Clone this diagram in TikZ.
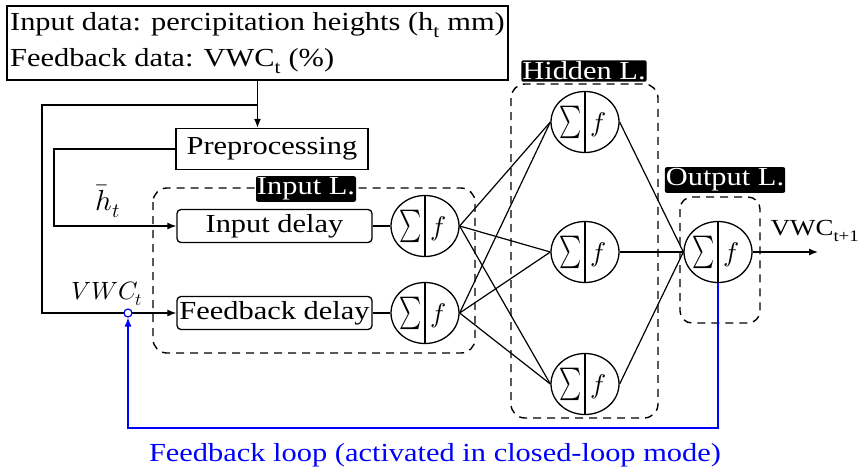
\documentclass[tikz,border=0pt]{standalone}
\usepackage{amsmath}
\usepackage{graphicx}
\usepackage{fontspec}
\usepackage{unicode-math}
\setmainfont{Liberation Serif}[FakeStretch=1.17]
\setmathfont{Latin Modern Math}
\usepackage{tikz}
\usetikzlibrary{arrows.meta,shapes.geometric}

\tikzset{
  box/.style={draw,line width=1.5pt,inner sep=3pt},
  delaybox/.style={draw,rounded corners=4pt,line width=1.3pt,minimum width=195pt,minimum height=33pt,inner sep=0pt},
  neuron/.style={ellipse,draw,fill=white,line width=1.3pt,minimum width=68pt,minimum height=61pt,inner sep=0pt,font=\fontsize{27}{30}\selectfont},
  layerbox/.style={line width=1.4pt,dash pattern=on 8pt off 6pt,rounded corners=14pt},
  tag/.style={fill=black,text=white,inner xsep=1pt,inner ysep=1.5pt,rounded corners=2pt},
  wire/.style={line width=1.2pt},
  mathlabel/.style={font=\fontsize{29}{32}\selectfont},
}
\newcommand{\sumf}{\makebox[0pt][r]{\raisebox{1pt}{\scalebox{0.78}[1.2]{$\sum$}}\hspace{3pt}}\makebox[0pt][l]{\hspace{5pt}$f$}}

\begin{document}
\begin{tikzpicture}[x=1pt,y=-1pt,>={Latex[length=9pt,width=7pt]},font=\fontsize{26}{30}\selectfont]
  \useasboundingbox (0,0) rectangle (863,475);

  % layers (dashed frames)
  \draw[layerbox] (153,188) rectangle (475,353);
  \draw[layerbox] (511,84) rectangle (658,418);
  \draw[layerbox,rounded corners=12pt] (680,197) rectangle (760,323);
  \node[tag] (intag) at (306,189) {Input L.};
  \node[tag] (hidtag) at (584,71) {Hidden L.};
  \node[tag] (outtag) at (725,180) {Output L.};

  % data and preprocessing
  \node[box,align=left,minimum width=495pt,minimum height=74pt,font=\fontsize{26}{36}\selectfont] (data) at (257.5,43)
    {Input data: percipitation heights (h\textsubscript{t} mm)\\Feedback data: VWC\textsubscript{t} (\%)};
  \node[box,minimum width=192pt,minimum height=41pt] (prep) at (272,149) {Preprocessing};
  \node[delaybox] (indelay) at (274.5,226) {Input delay};
  \node[delaybox] (fbdelay) at (274.5,313) {Feedback delay};

  \coordinate (split) at (257.5,105);
  \coordinate (fbrail) at (42,313);
  \coordinate (inrail) at (54,226);
  \draw[wire,->] (data.south) -- (prep.north -| data.south);
  \draw[wire,->] (split) -| (fbrail) -- (fbdelay.west);
  \draw[wire,->] (prep.west) -| (inrail) -- (indelay.west);
  \node[mathlabel] (hlabel) at (108,201) {$\bar{h}_t$};
  \node[mathlabel,font=\fontsize{25}{28}\selectfont] (vwclabel) at (107,294) {$VWC_t$};

  % neurons
  \node[neuron] (in1) at (425,226) {\sumf};
  \node[neuron] (in2) at (425,313) {\sumf};
  \node[neuron] (h1) at (585,122) {\sumf};
  \node[neuron] (h2) at (585,252) {\sumf};
  \node[neuron] (h3) at (585,384) {\sumf};
  \node[neuron] (out) at (718,252) {\sumf};
  \foreach \n in {in1,in2,h1,h2,h3,out}
    \draw[wire] (\n.north) -- (\n.south);

  \draw[wire] (indelay) -- (in1);
  \draw[wire] (fbdelay) -- (in2);
  \foreach \a in {in1,in2}
    \foreach \b in {h1,h2,h3}
      \draw[wire] (\a.east) -- (\b.west);
  \foreach \b in {h1,h2,h3}
    \draw[wire] (\b.east) -- (out.west);

  \coordinate (vwcend) at (818,252);
  \draw[wire,->] (out.east) -- (vwcend);
  \node[font=\fontsize{23}{26}\selectfont] (vwcnext) at (815,231) {VWC\textsubscript{t+1}};

  % feedback loop
  \node[circle,draw=blue,fill=white,line width=1.2pt,inner sep=0pt,minimum size=8pt] (tap) at (128,313) {};
  \coordinate (loopR) at (718,428);
  \coordinate (loopL) at (128,428);
  \draw[wire,blue,->] (out.south) -- (loopR) -- (loopL) -- (tap.south);
  \node[text=blue] (looplabel) at (435,455) {Feedback loop (activated in closed-loop mode)};
\end{tikzpicture}
\end{document}
